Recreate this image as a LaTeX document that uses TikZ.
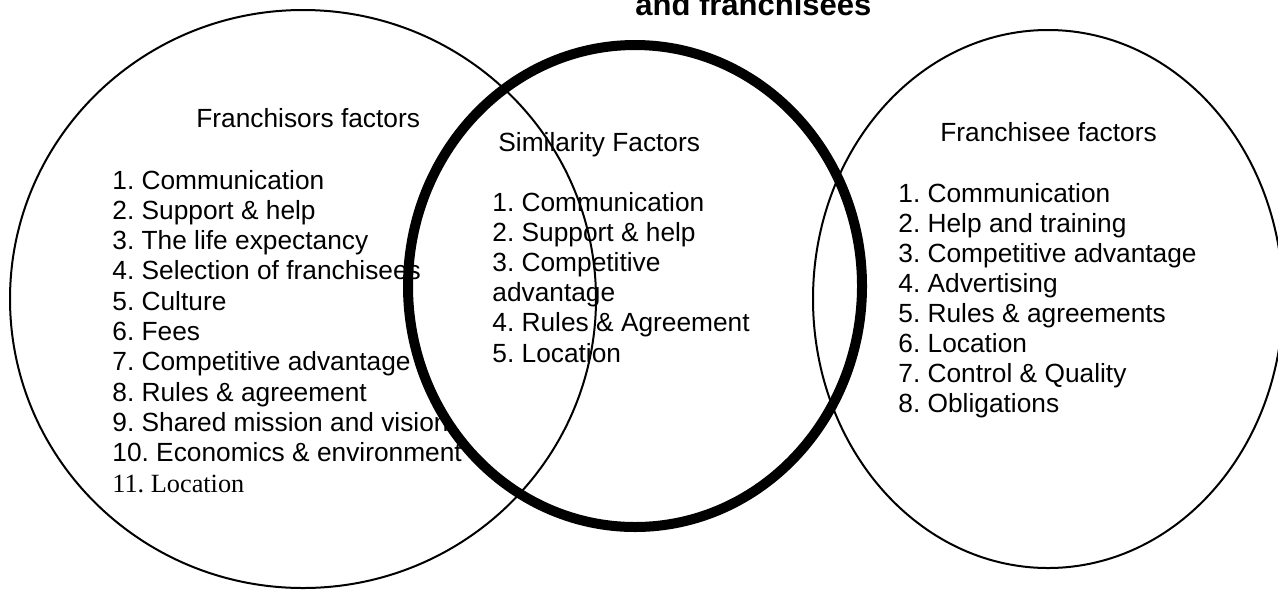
\documentclass[tikz,border=0pt]{standalone}
\usepackage{fontspec}
\setmainfont{Liberation Sans}
\newfontfamily\timesfont{Liberation Serif}
\frenchspacing
\begin{document}
\begin{tikzpicture}[x=0.5pt,y=0.5pt,
        item/.style={anchor=base west,inner sep=0pt,font=\fontsize{13.15}{15.1}\selectfont},
        ring/.style={line width=1pt},
        bigring/.style={line width=5pt}]
        \useasboundingbox (0,0) rectangle (1278,-590);
        \node[anchor=base west,inner sep=0pt,font=\bfseries\fontsize{15.5}{18}\selectfont] (title) at (635,-15) {and franchisees};
        % franchisors
        \node[item] (lhead) at (196,-127) {Franchisors factors};
        \foreach \t [count=\i] in {Communication,Support \& help,The life expectancy,Selection of franchisees,Culture,Fees,Competitive advantage,Rules \& agreement,Shared mission and vision,Economics \& environment}
            \node[item] (l\i) at (112,{-189-30.3*(\i-1)}) {\i. \t};
        \node[item,font=\timesfont\fontsize{13.15}{15.1}\selectfont] (l11) at (112,-492) {11. Location};
        % similarity
        \node[item] (mhead) at (498,-151) {Similarity Factors};
        \foreach \t [count=\i] in {1. Communication,2. Support \& help,3. Competitive,advantage,4. Rules \& Agreement,5. Location}
            \node[item] (m\i) at (492,{-211-30.2*(\i-1)}) {\t};
        % franchisees
        \node[item] (rhead) at (940,-141) {Franchisee factors};
        \foreach \t [count=\i] in {Communication,Help and training,Competitive advantage,Advertising,Rules \& agreements,Location,Control \& Quality,Obligations}
            \node[item] (r\i) at (898,{-202-30*(\i-1)}) {\i. \t};
        % circles
        \draw[ring] (303,-299) ellipse [x radius=293, y radius=289];
        \draw[bigring] (635,-286) ellipse [x radius=227, y radius=241];
        \draw[ring] (1048,-299) ellipse [x radius=235, y radius=269];
    \end{tikzpicture}
\end{document}
